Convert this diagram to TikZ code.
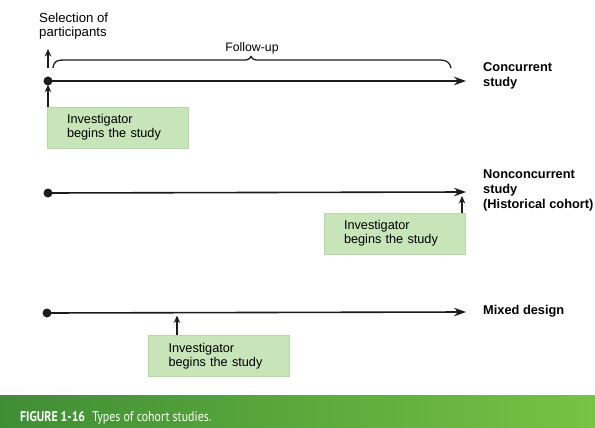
\documentclass[tikz,border=0pt]{standalone}
\usepackage{fontspec}
\setmainfont{Liberation Sans}
\newfontfamily\capfont[FakeStretch=0.85]{PT Sans}
\usepackage{xcolor}
\usetikzlibrary{positioning, arrows.meta}
\definecolor{boxgreen}{HTML}{C8E5BA}
\definecolor{boxedge}{HTML}{B8D8A6}
\definecolor{bandleft}{HTML}{3E8E34}
\definecolor{bandright}{HTML}{78C244}
\definecolor{inkgray}{HTML}{1C1C1C}

\tikzset{
  dot/.style={circle, fill=inkgray, inner sep=0pt, minimum size=9pt},
  timeline/.style={inkgray, line width=1.6pt, -{Stealth[length=12pt, width=8.5pt]}},
  uparrow/.style={inkgray, line width=1.6pt, -{Stealth[length=7.5pt, width=6.5pt]}},
  invbox/.style={fill=boxgreen, draw=boxedge, thin, minimum width=141pt,
    minimum height=41pt, text width=101pt, align=left, inner sep=0pt,
    font=\fontsize{12.7}{14}\selectfont},
  studylabel/.style={anchor=west, align=left, inner sep=0pt,
    font=\fontsize{12.8}{15}\selectfont\bfseries}
}

\begin{document}
\begin{tikzpicture}[x=1pt, y=-1pt]
  \useasboundingbox (0,0) rectangle (595,428);
  % top labels
  \node[align=left, anchor=west, inner sep=0pt, font=\fontsize{13.2}{14.5}\selectfont] (sel) at (39,26) {Selection of\\participants};
  \node[inner sep=0pt, font=\fontsize{12.3}{14}\selectfont] (follow) at (252,48) {Follow-up};
  % timeline 1: concurrent
  \node[dot] (dot1) at (48,81) {};
  \coordinate (end1) at (466,81);
  \draw[timeline] (dot1.center) -- (end1);
  \coordinate (selfoot) at (48,68);
  \coordinate (seltip) at (48,49);
  \draw[uparrow] (selfoot) -- (seltip);
  \draw[inkgray, line width=1.3pt] (53,68) .. controls (54,61) and (57,60) .. (64,60)
    -- (246,60) .. controls (249,60) and (250,58) .. (251,56.5)
    .. controls (252,58) and (253,60) .. (256,60)
    -- (440,60) .. controls (447,60) and (450,63) .. (451,68);
  \node[invbox] (box1) at (117.5,127.5) {Investigator\\begins the study};
  \draw[uparrow] (box1.north west -| dot1) -- ([yshift=1pt]dot1.south);
  \node[studylabel] (conc) at (483,76) {Concurrent\\study};
  % timeline 2: nonconcurrent
  \node[dot] (dot2) at (48,193) {};
  \coordinate (end2) at (466,192);
  \draw[timeline] (dot2.center) -- (end2);
  \node[invbox] (box2) at (394.5,233.5) {Investigator\\begins the study};
  \coordinate (start2) at (462,196);
  \draw[uparrow] (box2.north -| start2) -- (start2);
  \node[studylabel] (nonconc) at (483,190) {Nonconcurrent\\study\\(Historical cohort)};
  % timeline 3: mixed
  \node[dot] (dot3) at (47,313) {};
  \coordinate (end3) at (466,312);
  \draw[timeline] (dot3.center) -- (end3);
  \node[invbox] (box3) at (219,356) {Investigator\\begins the study};
  \coordinate (start3) at (177,315.5);
  \draw[uparrow] (box3.north -| start3) -- (start3);
  \node[studylabel] (mixed) at (483,311) {Mixed design};
  % caption band
  \shade[left color=bandleft, right color=bandright] (0,395) rectangle (595,428);
  \node[anchor=base west, inner sep=0pt, text=white, font=\capfont\fontsize{14}{16}\selectfont] (cap) at (20,421)
    {\textbf{FIGURE 1-16}\hspace{7pt}Types of cohort studies.};
\end{tikzpicture}
\end{document}
